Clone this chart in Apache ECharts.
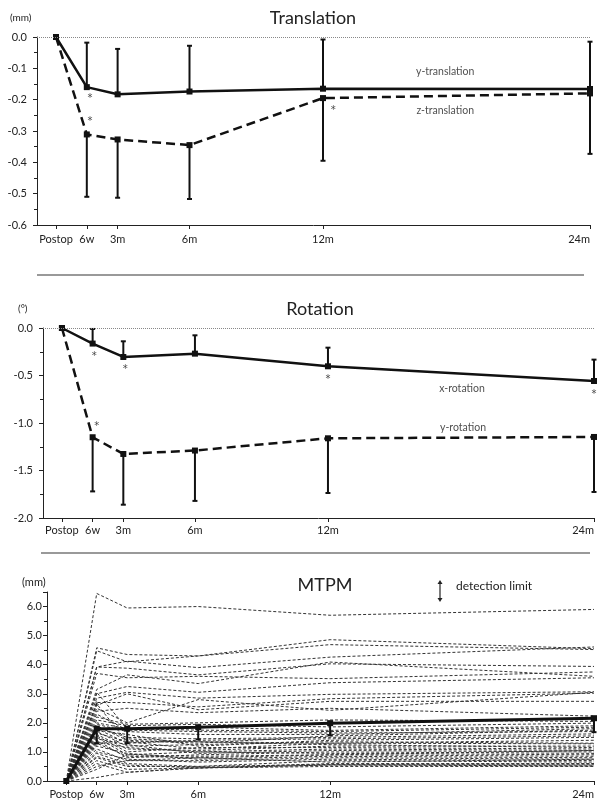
<!DOCTYPE html>
<html><head><meta charset="utf-8">
<script src="https://cdn.jsdelivr.net/npm/echarts@6/dist/echarts.min.js"></script>
<style>html,body{margin:0;padding:0;background:#fff}#c{width:597px;height:800px}</style>
</head><body><div id="c"></div>
<script>
// ---- data ----
const xValues = [0, 6, 12, 26, 52, 104];           // weeks after surgery
const xLabels = ['Postop', '6w', '3m', '6m', '12m', '24m'];

// Translation (mm)
const yTranslation = [0, -0.160, -0.183, -0.174, -0.165, -0.166];
const yTranslationErr = [null, -0.018, -0.038, -0.028, -0.008, -0.015];
const zTranslation = [0, -0.311, -0.327, -0.345, -0.195, -0.180];
const zTranslationErr = [null, -0.510, -0.513, -0.517, -0.395, -0.373];
const translationStars = [[6.6, -0.19], [6.6, -0.262], [54, -0.228]];

// Rotation (deg)
const xRotation = [0, -0.164, -0.305, -0.270, -0.403, -0.558];
const xRotationErr = [null, -0.010, -0.140, -0.077, -0.207, -0.333];
const yRotation = [0, -1.150, -1.326, -1.290, -1.161, -1.147];
const yRotationErr = [null, -1.720, -1.860, -1.820, -1.737, -1.726];
const rotationStars = [[6.3, -0.275], [12.4, -0.418], [52, -0.52], [104, -0.678], [6.8, -1.015]];

// MTPM (mm)
const mtpmMean = [0, 1.80, 1.80, 1.85, 1.99, 2.16];
const mtpmMeanErr = [null, 1.30, 1.30, 1.43, 1.57, 1.68];
const mtpmStars = [[6, 2.62]];
const mtpmPatients = [
  [0, 6.45, 5.95, 6.00, 5.70, 5.90],
  [0, 4.58, 4.35, 4.30, 4.86, 4.55],
  [0, 4.48, 4.10, 4.30, 4.69, 4.52],
  [0, 3.92, 4.12, 3.90, 4.26, 4.61],
  [0, 3.92, 3.88, 3.65, 4.03, 3.94],
  [0, 3.70, 3.55, 3.60, 3.52, 3.75],
  [0, 3.15, 3.65, 3.35, 4.09, 3.60],
  [0, 3.00, 3.25, 3.05, 3.38, 3.55],
  [0, 2.85, 3.05, 2.85, 2.98, 3.07],
  [0, 2.70, 2.70, 2.55, 2.83, 3.02],
  [0, 2.60, 3.00, 2.45, 2.74, 2.74],
  [0, 2.50, 2.00, 2.80, 2.43, 3.05],
  [0, 2.40, 2.50, 2.35, 2.50, 2.23],
  [0, 2.20, 1.95, 2.00, 2.10, 2.05],
  [0, 2.10, 1.90, 1.95, 1.86, 1.99],
  [0, 2.00, 1.80, 1.85, 1.74, 1.90],
  [0, 1.95, 1.70, 1.60, 1.60, 1.80],
  [0, 1.90, 1.40, 1.30, 1.55, 1.75],
  [0, 1.85, 1.50, 1.45, 1.50, 1.62],
  [0, 1.80, 1.30, 1.40, 1.45, 1.55],
  [0, 1.75, 1.60, 1.20, 1.40, 1.50],
  [0, 1.70, 1.20, 1.25, 1.35, 1.30],
  [0, 1.65, 1.35, 1.10, 1.30, 1.28],
  [0, 1.60, 1.10, 1.05, 1.20, 1.20],
  [0, 1.55, 1.00, 1.15, 1.15, 1.10],
  [0, 1.50, 0.90, 1.00, 1.10, 1.05],
  [0, 1.45, 1.25, 0.95, 1.05, 1.00],
  [0, 1.40, 0.80, 0.90, 1.00, 0.95],
  [0, 1.35, 1.15, 1.00, 0.95, 0.90],
  [0, 1.30, 0.85, 0.80, 0.90, 0.85],
  [0, 1.20, 0.95, 0.75, 0.85, 0.80],
  [0, 1.10, 0.70, 0.70, 0.80, 0.75],
  [0, 1.00, 0.75, 0.65, 0.75, 0.70],
  [0, 0.95, 0.60, 0.50, 0.70, 0.65],
  [0, 0.85, 0.55, 0.45, 0.60, 0.60],
  [0, 0.80, 0.50, 0.50, 0.57, 0.58],
  [0, 0.70, 0.40, 0.45, 0.55, 0.52],
  [0, 0.60, 0.30, 0.45, 0.50, 0.50],
  [0, 0.50, 0.70, 0.80, 0.65, 0.75],
  [0, 0.40, 0.90, 0.85, 0.90, 1.05],
  [0, 0.12, 0.30, 0.45, 0.55, 0.55],
  [0, 1.25, 1.45, 1.35, 1.25, 1.15],
  [0, 2.30, 1.75, 1.70, 1.65, 1.70],
  [0, 3.05, 1.80, 1.75, 1.70, 1.85],
  [0, 2.65, 1.35, 1.35, 1.30, 1.40]
];

// ---- helpers ----
const FONT = 'Lato';
const pts = arr => xValues.map((x, i) => [x, arr[i]]);
const errPts = (mean, end) => xValues.map((x, i) => [x, mean[i], end[i]]).filter(d => d[2] != null);

function errRender(params, api) {
  const x = api.value(0);
  const p1 = api.coord([x, api.value(1)]);
  const p2 = api.coord([x, api.value(2)]);
  const cap = 2.5;
  return { type: 'group', children: [
    { type: 'line', shape: { x1: p1[0], y1: p1[1], x2: p2[0], y2: p2[1] }, style: { stroke: '#111', lineWidth: 2 } },
    { type: 'line', shape: { x1: p2[0] - cap, y1: p2[1], x2: p2[0] + cap, y2: p2[1] }, style: { stroke: '#111', lineWidth: 2 } }
  ]};
}

function xAxisCfg(gridIndex, min, margin) {
  return {
    type: 'value', gridIndex, min, max: 104,
    axisLine: { onZero: false, lineStyle: { color: '#222', width: 1 } },
    splitLine: { show: false },
    axisTick: { customValues: xValues, length: 4, lineStyle: { color: '#222' } },
    axisLabel: { customValues: xValues, formatter: v => xLabels[xValues.indexOf(v)], margin,
      fontFamily: FONT, fontSize: 11, color: '#222', alignMaxLabel: 'right' }
  };
}
function yAxisCfg(gridIndex, min, max, interval, margin) {
  return {
    type: 'value', gridIndex, min, max, interval,
    axisLine: { show: true, onZero: false, lineStyle: { color: '#222', width: 1 } },
    splitLine: { show: false },
    axisTick: { show: true, length: 4, lineStyle: { color: '#222' } },
    minorTick: { show: true, splitNumber: 2, length: 3, lineStyle: { color: '#222' } },
    axisLabel: { formatter: v => v.toFixed(1), margin, fontFamily: FONT, fontSize: 11, color: '#222',
      showMaxLabel: max === 0 || max % interval === 0 }
  };
}
function starSeries(xi, data) {
  return { type: 'scatter', xAxisIndex: xi, yAxisIndex: xi, data, symbolSize: 0, silent: true, z: 5,
    label: { show: true, position: 'inside', formatter: '*', fontFamily: 'DejaVu Sans', fontSize: 10, color: '#111', offset: [0, 2] } };
}
function textSeries(xi, data, text) {
  return { type: 'scatter', xAxisIndex: xi, yAxisIndex: xi, data, symbolSize: 0, silent: true,
    label: { show: true, position: 'inside', formatter: text, fontFamily: FONT, fontSize: 10.5, color: '#222' } };
}
function meanLine(xi, arr, dashed, width) {
  return { type: 'line', xAxisIndex: xi, yAxisIndex: xi, data: pts(arr), symbol: 'rect', symbolSize: 6,
    itemStyle: { color: '#111' }, z: 4,
    lineStyle: { color: '#111', width: width || 2.5, type: dashed ? [9, 5] : 'solid' } };
}
function errSeries(xi, mean, end) {
  return { type: 'custom', xAxisIndex: xi, yAxisIndex: xi, data: errPts(mean, end), renderItem: errRender, z: 3 };
}
const zeroLine = { silent: true, symbol: 'none', label: { show: false },
  lineStyle: { type: 'dotted', color: '#888', width: 1 }, data: [{ yAxis: 0 }] };

// ---- series ----
const series = [];
const y1 = meanLine(0, yTranslation, false); y1.markLine = zeroLine;
series.push(y1, meanLine(0, zTranslation, true),
  errSeries(0, yTranslation, yTranslationErr), errSeries(0, zTranslation, zTranslationErr),
  starSeries(0, translationStars),
  textSeries(0, [[75.8, -0.112]], 'y-translation'), textSeries(0, [[75.8, -0.236]], 'z-translation'));

const r1 = meanLine(1, xRotation, false); r1.markLine = zeroLine;
series.push(r1, meanLine(1, yRotation, true),
  errSeries(1, xRotation, xRotationErr), errSeries(1, yRotation, yRotationErr),
  starSeries(1, rotationStars),
  textSeries(1, [[78.2, -0.638]], 'x-rotation'), textSeries(1, [[78.4, -1.053]], 'y-rotation'));

mtpmPatients.forEach(p => series.push({ type: 'line', xAxisIndex: 2, yAxisIndex: 2, data: pts(p), symbol: 'none',
  silent: true, z: 2, lineStyle: { color: '#333', width: 1, type: [3, 2] } }));
series.push(meanLine(2, mtpmMean, false, 3), errSeries(2, mtpmMean, mtpmMeanErr), starSeries(2, mtpmStars));

const txt = (text, x, y, size, align) => ({ type: 'text', x, y,
  style: { text, fontFamily: FONT, fontSize: size, fill: '#222', textAlign: align || 'left', textVerticalAlign: 'middle' } });

const option = {
  animation: false,
  backgroundColor: '#fff',
  grid: [
    { left: 37, top: 37, width: 553, height: 188 },
    { left: 43, top: 328, width: 552, height: 190 },
    { left: 47, top: 592, width: 548, height: 189 }
  ],
  xAxis: [xAxisCfg(0, -3.7, 9), xAxisCfg(1, -3.7, 7), xAxisCfg(2, -3.8, 8)],
  yAxis: [yAxisCfg(0, -0.6, 0, 0.1, 10), yAxisCfg(1, -2, 0, 0.5, 10), yAxisCfg(2, 0, 6.5, 1, 5)],
  series,
  graphic: [
    txt('Translation', 313, 18, 18, 'center'),
    txt('(mm)', 10, 18, 10),
    txt('Rotation', 320, 309, 18, 'center'),
    txt('(°)', 18, 309, 10),
    txt('MTPM', 325, 585, 18, 'center'),
    txt('(mm)', 22, 582, 11),
    txt('detection limit', 456, 586, 12),
    { type: 'line', shape: { x1: 37, y1: 275, x2: 584, y2: 275 }, style: { stroke: '#777', lineWidth: 1.5 } },
    { type: 'line', shape: { x1: 41, y1: 553, x2: 590, y2: 553 }, style: { stroke: '#777', lineWidth: 1.5 } },
    { type: 'line', shape: { x1: 440, y1: 583, x2: 440, y2: 599 }, style: { stroke: '#222', lineWidth: 1.2 } },
    { type: 'polygon', shape: { points: [[437.5, 584], [442.5, 584], [440, 580]] }, style: { fill: '#222' } },
    { type: 'polygon', shape: { points: [[437.5, 598], [442.5, 598], [440, 602]] }, style: { fill: '#222' } }
  ]
};
echarts.init(document.getElementById('c')).setOption(option);
</script>
</body></html>
